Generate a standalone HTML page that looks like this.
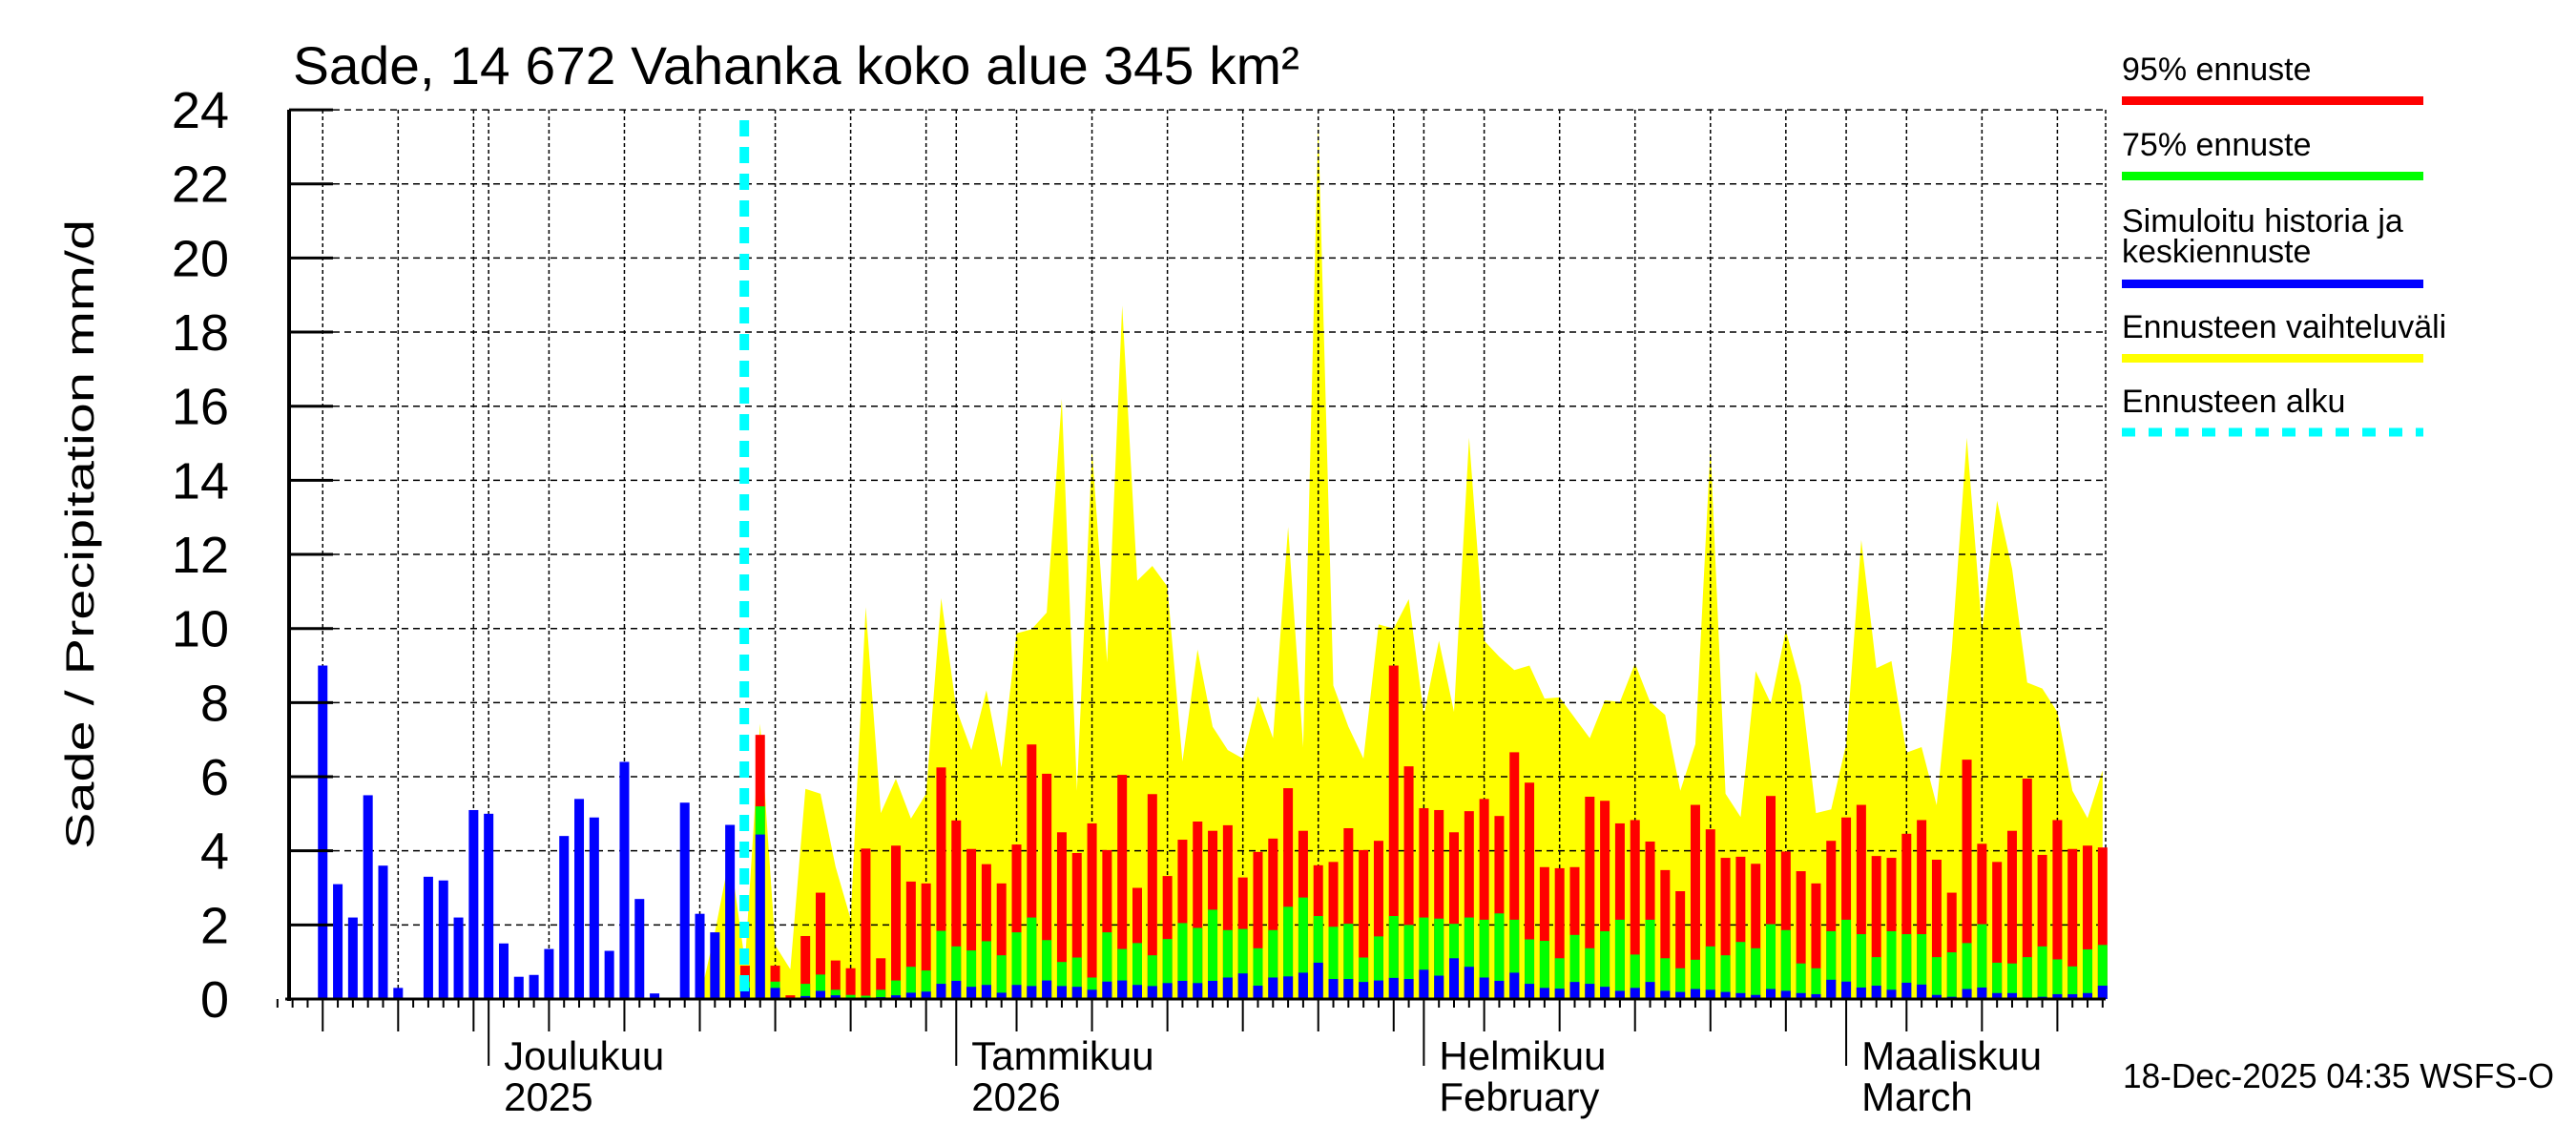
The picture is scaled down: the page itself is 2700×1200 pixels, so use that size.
<!DOCTYPE html>
<html><head><meta charset="utf-8"><style>
html,body{margin:0;padding:0;background:#fff;}
svg{display:block;font-family:"Liberation Sans",sans-serif;}
</style></head><body>
<svg id="chart" width="2700" height="1200" viewBox="0 0 2700 1200" xmlns="http://www.w3.org/2000/svg">
<rect width="2700" height="1200" fill="#fff"/>
<g id="yellow"></g>
<g id="grid"></g>
<g id="bars"></g>
<g id="axes"></g>
<text x="307" y="88" font-size="56" textLength="1055" lengthAdjust="spacingAndGlyphs">Sade, 14 672 Vahanka koko alue 345 km²</text>
<text transform="translate(98,560) rotate(-90)" text-anchor="middle" font-size="42" textLength="660" lengthAdjust="spacingAndGlyphs">Sade / Precipitation   mm/d</text>
<g font-size="34">
<text x="2224" y="84">95% ennuste</text>
<rect x="2224" y="101" width="316" height="9" fill="#ff0000"/>
<text x="2224" y="163">75% ennuste</text>
<rect x="2224" y="180" width="316" height="9" fill="#00ff00"/>
<text x="2224" y="243">Simuloitu historia ja</text>
<text x="2224" y="275">keskiennuste</text>
<rect x="2224" y="293" width="316" height="9" fill="#0000ff"/>
<text x="2224" y="354">Ennusteen vaihteluväli</text>
<rect x="2224" y="371" width="316" height="9" fill="#ffff00"/>
<text x="2224" y="432">Ennusteen alku</text>
<line x1="2224" y1="453" x2="2540" y2="453" stroke="#00ffff" stroke-width="9" stroke-dasharray="14,14"/>
</g>
<text x="2225" y="1140" font-size="36" textLength="452" lengthAdjust="spacingAndGlyphs">18-Dec-2025 04:35 WSFS-O</text>
</svg>
<script>
const histValues=[0,0,9.0,3.1,2.2,5.5,3.6,0.3,0,3.3,3.2,2.2,5.1,5.0,1.5,0.6,0.65,1.35,4.4,5.4,4.9,1.3,6.4,2.7,0.15,0,5.3,2.3,1.8,4.7];
const forecastStart=30;
const red95=[0.9,7.13,0.9,0.1,1.7,2.87,1.04,0.83,4.06,1.1,
4.14,3.17,3.12,6.25,4.82,4.05,3.64,3.12,4.17,6.87,
6.08,4.5,3.94,4.74,4.02,6.05,3.0,5.53,3.32,4.3,
4.79,4.54,4.69,3.28,3.97,4.33,5.69,4.54,3.61,3.7,
4.61,4.02,4.27,9.0,6.28,5.15,5.1,4.5,5.07,5.4,
4.94,6.66,5.84,3.56,3.53,3.56,5.46,5.35,4.74,4.83,
4.25,3.48,2.91,5.24,4.58,3.81,3.84,3.65,5.48,3.98,
3.45,3.12,4.27,4.9,5.24,3.86,3.81,4.46,4.83,3.76,
2.87,6.46,4.19,3.7,4.54,5.95,3.89,4.83,4.05,4.14,4.09];
const green75=[0.47,5.2,0.47,0.03,0.41,0.66,0.25,0.11,0.09,0.25,
0.5,0.87,0.77,1.84,1.42,1.31,1.56,1.18,1.8,2.2,
1.59,1.0,1.12,0.58,1.8,1.35,1.51,1.18,1.62,2.05,
1.92,2.41,1.86,1.89,1.37,1.86,2.49,2.74,2.24,1.95,
2.03,1.12,1.69,2.24,2.0,2.2,2.17,2.03,2.2,2.14,
2.31,2.14,1.61,1.57,1.1,1.73,1.37,1.83,2.14,1.2,
2.14,1.1,0.83,1.06,1.42,1.18,1.54,1.37,2.02,1.86,
0.96,0.83,1.83,2.14,1.75,1.13,1.83,1.75,1.75,1.13,
1.26,1.51,2.02,0.98,0.96,1.13,1.42,1.07,0.88,1.34,1.46];
const blueMean=[0.3,4.44,0.3,0,0.08,0.22,0.1,0.03,0.02,0.05,
0.1,0.17,0.2,0.41,0.49,0.33,0.38,0.17,0.38,0.35,
0.5,0.35,0.33,0.25,0.47,0.5,0.38,0.35,0.43,0.49,
0.43,0.49,0.58,0.69,0.36,0.58,0.61,0.71,0.98,0.54,
0.54,0.46,0.5,0.57,0.54,0.79,0.63,1.1,0.87,0.58,
0.49,0.71,0.41,0.3,0.28,0.46,0.41,0.33,0.22,0.3,
0.46,0.22,0.19,0.27,0.25,0.19,0.16,0.11,0.27,0.22,
0.16,0.13,0.52,0.47,0.31,0.36,0.25,0.44,0.39,0.11,
0.06,0.27,0.31,0.16,0.16,0.03,0.06,0.13,0.13,0.16,0.36];
const rangeStart=27;
const rangeMax=[0,1.8,3.9,1.0,7.43,1.45,0.8,5.67,5.54,3.57,2.16,10.58,5.02,
5.94,4.87,5.54,10.82,7.83,6.72,8.33,6.25,9.87,9.98,
10.43,16.2,5.62,14.83,9.09,18.72,11.29,11.69,11.13,6.41,
9.43,7.35,6.72,6.49,8.17,7.04,12.74,6.8,23.65,8.46,
7.35,6.49,10.11,10.0,10.79,7.67,9.67,7.75,15.15,9.67,
9.24,8.88,9.0,8.11,8.14,7.59,7.04,8.06,8.02,9.06,
8.02,7.67,5.62,6.88,14.91,5.54,4.91,8.85,7.98,9.95,
8.46,5.02,5.12,6.88,12.39,8.93,9.12,6.65,6.8,5.23,
9.4,15.15,9.95,13.45,11.61,8.54,8.38,7.75,5.62,4.88,6.17];
const yTicks=[0,2,4,6,8,10,12,14,16,18,20,22,24];
const monthDays=[13,44,75,103];
const monthLabels=[["Joulukuu","2025"],["Tammikuu","2026"],["Helmikuu","February"],["Maaliskuu","March"]];
const gridDays=[2,7,12,17,22,27,32,37,42,48,53,58,63,68,73,79,84,89,94,99,107,112,117];

const NS="http://www.w3.org/2000/svg";
const X0=303,X1=2207,DAYW=15.81,Y0=1047,PXMM=38.83;
function xs(d){return X0+DAYW*(d+0.23);}
function ys(v){return Y0-v*PXMM;}
function mk(parent,tag,attrs){const e=document.createElementNS(NS,tag);for(const k in attrs)e.setAttribute(k,attrs[k]);parent.appendChild(e);return e;}
const gY=document.getElementById('yellow'),gG=document.getElementById('grid'),gB=document.getElementById('bars'),gA=document.getElementById('axes');

// yellow range
let pts=[];
rangeMax.forEach((v,i)=>pts.push(xs(rangeStart+i).toFixed(1)+","+ys(v).toFixed(1)));
pts.push(xs(rangeStart+rangeMax.length-1).toFixed(1)+","+Y0);
pts.push(xs(rangeStart).toFixed(1)+","+Y0);
const poly=mk(gY,'polygon',{points:pts.join(' '),fill:'#ffff00'});



// horizontal grid
yTicks.forEach(v=>{
  if(v>0){const l=mk(gG,'line',{x1:349,x2:X1,y1:ys(v),y2:ys(v),stroke:'#000','stroke-width':1.5,'stroke-dasharray':'7,5'});
  
  }
});
// vertical grid
gridDays.concat(monthDays).forEach(d=>{
  const l=mk(gG,'line',{x1:xs(d),x2:xs(d),y1:115,y2:Y0,stroke:'#000','stroke-width':1.5,'stroke-dasharray':'4,3'});
  
  
});
mk(gG,'line',{x1:X1,x2:X1,y1:115,y2:Y0,stroke:'#000','stroke-width':1.5,'stroke-dasharray':'4,3'});

// history bars
histValues.forEach((v,i)=>{
  const r=mk(gB,'rect',{x:xs(i)-5,y:ys(v),width:10,height:Math.max(0,Y0-ys(v)),fill:'#0000ff'});
  
  
});
// forecast bars
red95.forEach((v,i)=>{
  const d=forecastStart+i;
  [[v,'#ff0000','bar-95'],[green75[i],'#00ff00','bar-75'],[blueMean[i],'#0000ff','bar-mean']].forEach(s=>{
    const r=mk(gB,'rect',{x:xs(d)-5,y:ys(s[0]),width:10,height:Math.max(0,Y0-ys(s[0])),fill:s[1]});
    
    
  });
});
// forecast start line
const fl=mk(gB,'line',{x1:xs(forecastStart-0.05),x2:xs(forecastStart-0.05),y1:126,y2:Y0,stroke:'#00ffff','stroke-width':10,'stroke-dasharray':'17,11'});



// axes
mk(gA,'line',{x1:X0,x2:X0,y1:115,y2:Y0+2,stroke:'#000','stroke-width':4});
mk(gA,'line',{x1:X0-4,x2:X1,y1:Y0,y2:Y0,stroke:'#000','stroke-width':3});
yTicks.forEach(v=>{
  mk(gA,'line',{x1:X0,x2:349,y1:ys(v),y2:ys(v),stroke:'#000','stroke-width':3});
  const t=mk(gA,'text',{x:240,y:ys(v)+19,'text-anchor':'end','font-size':54});
  t.textContent=String(v);
  
  
});
for(let d=-1;d<=120;d++){
  let len=9;
  if(gridDays.includes(d))len=34;
  if(monthDays.includes(d))len=70;
  mk(gA,'line',{x1:xs(d),x2:xs(d),y1:Y0,y2:Y0+len,stroke:'#000','stroke-width':2});
}
monthDays.forEach((d,i)=>{
  const t1=mk(gA,'text',{x:xs(d)+16,y:1121,'font-size':42});
  t1.textContent=monthLabels[i][0];
  
  
  const t2=mk(gA,'text',{x:xs(d)+16,y:1164,'font-size':42});
  t2.textContent=monthLabels[i][1];
  
  
});
</script>
</body></html>
